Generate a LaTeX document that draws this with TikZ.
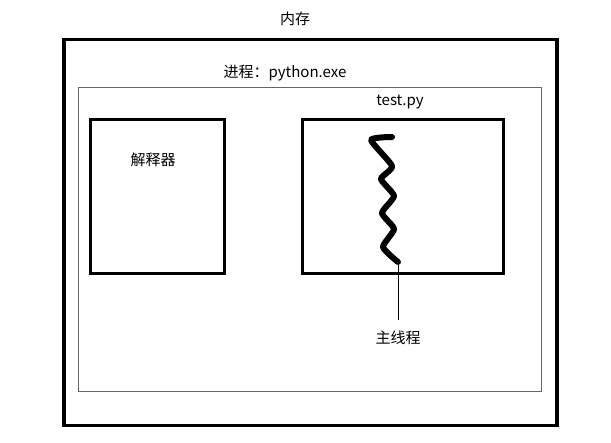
\documentclass[tikz,border=0pt]{standalone}
\usepackage{fontspec}
\setmainfont{Noto Sans CJK SC}
\begin{document}
\begin{tikzpicture}[x=1pt,y=-1pt,
  lbl/.style={font=\fontsize{15}{17}\selectfont,inner sep=0pt},
  thickbox/.style={draw=black,line width=3.5pt}]
\useasboundingbox (0,0) rectangle (611,443);
\fill[white] (0,0) rectangle (611,443);
\node[thickbox,minimum width=493pt,minimum height=386pt,anchor=north west] (mem) at (62,38) {};
\node[draw=black!60,line width=0.6pt,minimum width=463pt,minimum height=304pt,anchor=north west] (proc) at (78,87) {};
\node[thickbox,line width=3pt,minimum width=134pt,minimum height=154pt,anchor=north west] (interp) at (89,118) {};
\node[thickbox,line width=3pt,minimum width=201pt,minimum height=154pt,anchor=north west] (test) at (301,118) {};
\node[lbl] (memlbl) at (295,19) {内存};
\node[lbl] (proclbl) at (285,73) {进程：python.exe};
\node[lbl] (testlbl) at (400,102) {test.py};
\node[lbl] (interplbl) at (153,160) {解释器};
\node[lbl] (mainlbl) at (398,338) {主线程};
\coordinate (s1) at (398,262);
\draw[line width=6pt,line cap=round,line join=round] plot[smooth,tension=0.35] coordinates {(392,137) (371,140) (392,166) (381,179) (394,196) (382,213) (394,229) (383,247) (398,262)};
\draw[line width=0.6pt] (s1) -- (mainlbl.north |- 0,320);
\end{tikzpicture}
\end{document}
